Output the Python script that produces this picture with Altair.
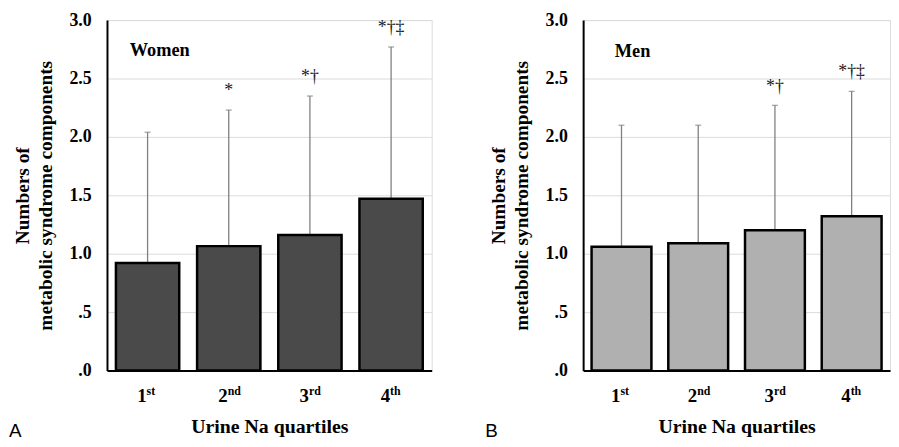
import altair as alt
import pandas as pd

quartiles = ["1st", "2nd", "3rd", "4th"]
women_mean = [0.92, 1.065, 1.16, 1.47]
women_top = [2.04, 2.23, 2.35, 2.77]
women_sig = ["", "*", "*†", "*†‡"]
men_mean = [1.06, 1.09, 1.20, 1.32]
men_top = [2.10, 2.10, 2.27, 2.39]
men_sig = ["", "", "*†", "*†‡"]
y_ticks = [0, 0.5, 1.0, 1.5, 2.0, 2.5, 3.0]

SERIF = "Liberation Serif"
SANS = "Liberation Sans"
H = 354


def panel(mean, top, sig, fill, label, letter, width, label_x, label_y):
    df = pd.DataFrame({
        "q": quartiles,
        "mean": mean,
        "top": top,
        "sig": sig,
        "digit": [q[0] for q in quartiles],
        "suffix": [q[1:] for q in quartiles],
    })
    x_enc = alt.X(
        "q:N", sort=quartiles,
        scale=alt.Scale(paddingInner=0.22, paddingOuter=0.11),
        axis=alt.Axis(labels=False, ticks=False, grid=False, domainColor="black",
                      domainWidth=2, title="Urine Na quartiles", titleFont=SERIF,
                      titleFontSize=20, titleFontWeight="bold", titleColor="black",
                      titlePadding=47),
    )
    y_axis = alt.Axis(
        values=y_ticks,
        labelExpr="datum.value < 1 ? '.' + format(datum.value*10, 'd') : format(datum.value, '.1f')",
        labelFont=SERIF, labelFontSize=18, labelFontWeight="bold", labelColor="black",
        labelPadding=16, ticks=False, domainColor="black", domainWidth=2,
        gridColor="#dcdcdc", gridWidth=1,
        title=["Numbers of", "metabolic syndrome components"],
        titleFont=SERIF, titleFontSize=19.5, titleFontWeight="bold", titleColor="black",
        titleLineHeight=23, titlePadding=14,
    )
    y_scale = alt.Scale(domain=[0, 3], nice=False)
    base = alt.Chart(df)
    err = base.mark_rule(color="#808080", strokeWidth=1.3).encode(
        x=x_enc, y=alt.Y("mean:Q", scale=y_scale, axis=y_axis), y2="top:Q")
    bars = base.mark_bar(fill=fill, stroke="black", strokeWidth=2.5).encode(
        x=x_enc, y=alt.Y("mean:Q", scale=y_scale, axis=y_axis))
    caps = base.mark_tick(color="#808080", size=6, thickness=1.3, orient="horizontal").encode(
        x=x_enc, y=alt.Y("top:Q", scale=y_scale, axis=y_axis))
    sigs = base.mark_text(font=SERIF, fontSize=18, baseline="bottom", dy=-10,
                          fill="#1a1a1a").encode(
        x=x_enc, y=alt.Y("top:Q", scale=y_scale, axis=y_axis), text="sig:N")
    digits = base.mark_text(font=SERIF, fontSize=19, fontWeight="bold", align="right",
                            baseline="alphabetic", dx=-1, fill="black").encode(
        x=x_enc, y=alt.value(H + 32), text="digit:N")
    suffixes = base.mark_text(font=SERIF, fontSize=12, fontWeight="bold", align="left",
                              baseline="alphabetic", dx=-1, fill="black").encode(
        x=x_enc, y=alt.value(H + 25), text="suffix:N")
    lab = alt.Chart(pd.DataFrame({"t": [label]})).mark_text(
        font=SERIF, fontSize=18.5, fontWeight="bold", align="left", baseline="middle",
        fill="black").encode(x=alt.value(label_x), y=alt.value(label_y), text="t:N")
    let = alt.Chart(pd.DataFrame({"t": [letter]})).mark_text(
        font=SANS, fontSize=19, align="left", baseline="middle", fill="black").encode(
        x=alt.value(-99), y=alt.value(H + 61), text="t:N")
    return alt.layer(err, bars, caps, sigs, digits, suffixes, lab, let).properties(
        width=width, height=H)


left = panel(women_mean, women_top, women_sig, "#4a4a4a", "Women", "A", 328, 23, 30)
right = panel(men_mean, men_top, men_sig, "#b0b0b0", "Men", "B", 310, 32, 31)

chart = alt.hconcat(left, right, spacing=52).properties(padding=0).configure_view(
    stroke=None).configure(background="white")

chart.save("out.html", embed_options={"renderer": "svg", "actions": False})
